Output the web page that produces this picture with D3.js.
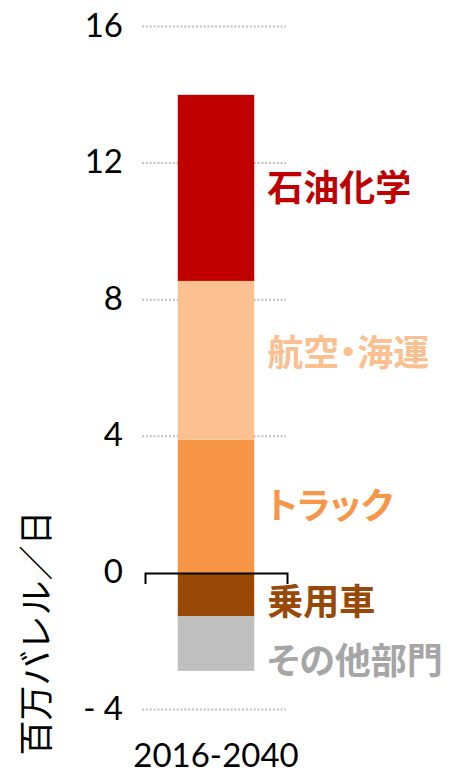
<!DOCTYPE html>
<html>
<head>
<meta charset="utf-8">
<script src="https://cdn.jsdelivr.net/npm/d3@7"></script>
<style>
  html, body { margin: 0; padding: 0; background: #fff; }
  svg { display: block; }
  .tick-num { font-family: Lato, "Open Sans", sans-serif; font-size: 33px; fill: #000; }
  .seg-label { font-family: "Noto Sans CJK JP", sans-serif; font-weight: 700; font-size: 36px;
               font-feature-settings: "palt"; }
  .y-title { font-family: "Noto Sans CJK JP", sans-serif; font-size: 35px; fill: #000; }
</style>
</head>
<body>
<svg id="chart" width="452" height="772"></svg>
<script>
// Period shown on the category axis
const periods = ["2016-2040"];

// Change in oil demand by sector (million barrels per day)
const sectors = ["トラック", "航空・海運", "石油化学", "乗用車", "その他部門"];
const demandChange = [3.9, 4.65, 5.45, -1.27, -1.6];

// Fill colours for the bars and the label colours
const barColors = ["#F79646", "#FAC090", "#C00000", "#984807", "#BFBFBF"];
const labelColors = ["#F79646", "#FAC090", "#C00000", "#984807", "#A6A6A6"];

// Value axis
const yTicks = [-4, 0, 4, 8, 12, 16];
const yTickLabels = ["- 4", "0", "4", "8", "12", "16"];
const yTitle = "百万バレル／日";

// Vertical nudges (px) applied to each sector label from the segment middle
const labelNudge = [0, -7, 0, 7, 17];

const svg = d3.select("#chart");

const x = d3.scaleBand().domain(periods).range([145, 287]).padding(0.3);
const y = d3.scaleLinear().domain([-4, 16]).range([709.5, 26.5]);

// Dotted gridlines (skip zero; the baseline axis is drawn there)
svg.append("g")
  .selectAll("line")
  .data(yTicks.filter(t => t !== 0))
  .join("line")
  .attr("x1", 142).attr("x2", 286)
  .attr("y1", d => y(d)).attr("y2", d => y(d))
  .attr("stroke", "#BFBFBF")
  .attr("stroke-width", 2)
  .attr("stroke-dasharray", "2,1.85");

// Tick labels on the value axis
const yAxis = d3.axisLeft(y)
  .tickValues(yTicks)
  .tickFormat((d, i) => yTickLabels[i])
  .tickSize(0)
  .tickPadding(0);
const gy = svg.append("g").attr("transform", "translate(123,0)").call(yAxis);
gy.select(".domain").remove();
gy.selectAll("text").attr("class", "tick-num").attr("dy", "0.32em").attr("y", -1)
  .attr("font-size", null).attr("font-family", null);

// Stacked bar
const row = { period: periods[0] };
sectors.forEach((s, i) => { row[s] = demandChange[i]; });
const stacked = d3.stack().keys(sectors).offset(d3.stackOffsetDiverging)([row]);

svg.append("g")
  .selectAll("rect")
  .data(stacked)
  .join("rect")
  .attr("x", x(periods[0]))
  .attr("width", x.bandwidth())
  .attr("y", d => y(Math.max(d[0][0], d[0][1])))
  .attr("height", d => Math.abs(y(d[0][0]) - y(d[0][1])))
  .attr("fill", (d, i) => barColors[i]);

// Zero baseline with end ticks
const xAxisZero = d3.axisBottom(x).tickSizeInner(0).tickSizeOuter(11).tickFormat("");
const gz = svg.append("g").attr("transform", `translate(0,${y(0)})`).call(xAxisZero);
gz.select(".domain").attr("stroke", "#000").attr("stroke-width", 2);
gz.selectAll(".tick").remove();

// Category label at the bottom
const xAxisBottom = d3.axisBottom(x).tickSize(0).tickPadding(0);
const gb = svg.append("g").attr("transform", "translate(0,744)").call(xAxisBottom);
gb.select(".domain").remove();
gb.selectAll("text").attr("class", "tick-num").attr("dy", "0.71em")
  .attr("font-size", null).attr("font-family", null);

// Sector labels beside the bar
svg.append("g")
  .selectAll("text")
  .data(stacked)
  .join("text")
  .attr("class", "seg-label")
  .attr("x", x(periods[0]) + x.bandwidth() + 13)
  .attr("y", (d, i) => (y(d[0][0]) + y(d[0][1])) / 2 + labelNudge[i])
  .attr("dy", "0.36em")
  .attr("fill", (d, i) => labelColors[i])
  .text(d => d.key);

// Value axis title
svg.append("text")
  .attr("class", "y-title")
  .attr("transform", "translate(36,633) rotate(-90)")
  .attr("text-anchor", "middle")
  .attr("dy", "0.36em")
  .text(yTitle);
</script>
</body>
</html>
